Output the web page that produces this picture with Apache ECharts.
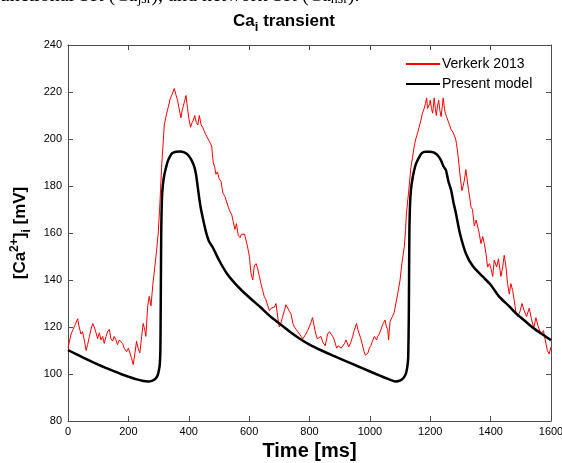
<!DOCTYPE html>
<html>
<head>
<meta charset="utf-8">
<script src="https://cdn.jsdelivr.net/npm/echarts@6/dist/echarts.min.js"></script>
<style>
html,body{margin:0;padding:0;background:#fff;}
#chart{width:562px;height:463px;}
</style>
</head>
<body>
<div id="chart"></div>
<script>
// ---- Data ----
const xTicks = [0, 200, 400, 600, 800, 1000, 1200, 1400, 1600];
const yTicks = [80, 100, 120, 140, 160, 180, 200, 220, 240];

const verkerkTime = [0,10,17,24,32,37,43,48,54,60,65,71,76,82,87,93,98,104,109,115,120,126,131,137,142,148,153,159,164,170,175,181,186,194,200,205,210,216,222,227,232,238,244,249,254,258,264,269,275,281,288,293,299,305,310,314,319,327,333,338,345,352,357,363,368,374,378,382,386,391,396,400,406,411,415,420,425,430,435,441,446,449,454,460,466,471,476,481,486,490,495,501,507,513,520,525,531,537,542,547,553,558,564,570,575,580,585,590,595,601,606,612,617,623,628,634,640,645,650,656,662,667,673,678,684,689,695,700,706,711,717,722,728,734,739,745,750,756,761,767,772,778,783,788,794,799,805,810,816,821,826,830,838,844,852,860,866,871,877,882,890,895,899,905,910,916,921,930,937,943,948,956,960,965,970,974,981,985,989,994,998,1003,1007,1015,1022,1026,1031,1037,1042,1046,1050,1055,1059,1062,1067,1075,1080,1084,1092,1100,1106,1114,1118,1121,1128,1136,1141,1147,1152,1158,1163,1169,1174,1180,1184,1188,1191,1195,1198,1200,1204,1208,1213,1217,1220,1224,1228,1232,1236,1240,1243,1247,1250,1254,1258,1264,1269,1275,1280,1284,1287,1292,1296,1300,1305,1309,1313,1318,1322,1327,1331,1335,1340,1346,1352,1357,1362,1368,1374,1379,1385,1390,1396,1401,1407,1412,1420,1426,1434,1440,1445,1451,1456,1462,1467,1473,1478,1484,1490,1497,1504,1511,1519,1528,1536,1543,1550,1558,1567,1575,1581,1588,1594,1600];
const verkerkCa = [111,117,119,121,123.5,120,117,118,114.5,110,112.5,116,119,121.5,120,117.5,115,117.5,114.5,116,113,116,118,119,115,114,116,114.5,112.5,114.5,115,113,111,109.5,111,110.5,107,104,109,114,111,109,116,121.5,119,116,129,133,129,138,146,152,160,174,188,196,206,211,214,217,219,221.5,219,216.5,213,209,212,214,216,218.5,213,209,205,207,208,210,207,206,210,206,205,204.5,202.5,201,199.5,199,197,190,188,185,186,183,182,177,175.5,175,171,169,168,165,161.5,164,159,158,159.5,160,159.5,159,154,150,143,140,146,147,145,141.5,138,135.5,133,131.5,129,127,128,127.5,128.5,130,124,120,122,124.5,127,129.5,129,126.5,125.5,121.5,120,119,118,117,116,115,114.5,117,118.5,120,122,124,120,117,115,114.5,116,113.5,112,117,118,118,116,114.5,111,112,112,111,111.5,113,114.5,111.5,113.5,116,118.5,121.5,119,117,115,113,109.5,108,107.5,109,111,112,113.5,116,114.5,116,117,119,121,122,123,120,119,114.5,122.5,124.5,126,128.5,134,140,147,154,161,168,177,188,192,197,200,202.5,205,208,211,213,215,217.5,213,212.5,215,216.5,213,211,217.5,213,210,214,216.5,212,209.5,214,217.5,213,211,209.5,208,206,204,203,202.5,200,198,193,188,183,178,180,182.5,187,183,178,175,171,170,163,165.5,166,160,155.5,158.5,155.5,151,145.5,147,145,141.5,148.5,145.5,149,141.5,145.5,150.5,145.5,138.5,134,138.5,135.5,131.5,126,124.5,126.5,130,127,124.5,128,123,119.5,124,120,117,118.5,114.5,110,108.5,111.5];

const modelTime = [0,25,50,75,100,125,150,175,200,225,250,265,280,290,297,301,304,306,307,308,309,311,314,319,325,330,338,346,358,372,385,395,402,410,418,424,429,434,440,448,457,467,481,500,525,550,580,610,636,670,700,735,768,800,840,878,920,960,989,1020,1050,1070,1083,1095,1107,1115,1120,1124,1127,1129,1130,1131,1133,1136,1141,1147,1153,1162,1172,1184,1198,1211,1221,1228,1236,1244,1252,1260,1269,1277,1285,1298,1318,1342,1374,1400,1429,1460,1484,1510,1539,1570,1600];
const modelCa = [110.2,108.6,107,105.5,104,102.6,101.3,100,98.9,97.8,97,96.8,97.2,98,99.5,101.5,104,110,125,145,162,174,180,184.7,188,190.4,192.6,194,194.6,194.7,194.3,193.5,192.5,190.8,188.3,185,180.4,175.5,170.5,165.5,160.5,156.5,153.5,148.5,143,139,135,131.5,128.6,124.5,121.5,118,115,112.5,110,107.8,105.5,103.3,101.7,100,98.4,97.4,96.8,97,97.8,99,100.5,103,107,125,145,162,172,178.3,183,186.8,189.5,192,194,194.6,194.6,194.3,193.5,192.5,190.8,188.3,186.8,182,178.3,173,168.4,160,151.3,145.7,141.4,138,132.8,129,125.8,123,119.8,117,114.4];

const seriesNames = ['Verkerk 2013', 'Present model'];

const verkerkData = verkerkTime.map((t, i) => [t, verkerkCa[i]]);
const modelData = modelTime.map((t, i) => [t, modelCa[i]]);

const chart = echarts.init(document.getElementById('chart'), null, {renderer: 'canvas'});
const FONT = 'Liberation Sans, Arial, Helvetica, sans-serif';
const axisColor = '#4d4d4d';

const baseX = {
  type: 'value', min: xTicks[0], max: xTicks[xTicks.length - 1], interval: xTicks[1] - xTicks[0],
  axisLine: {show: true, onZero: false, lineStyle: {color: axisColor, width: 1}},
  axisTick: {show: true, inside: true, length: 5, lineStyle: {color: axisColor}},
  splitLine: {show: false}
};
const baseY = {
  type: 'value', min: yTicks[0], max: yTicks[yTicks.length - 1], interval: yTicks[1] - yTicks[0],
  axisLine: {show: true, onZero: false, lineStyle: {color: axisColor, width: 1}},
  axisTick: {show: true, inside: true, length: 5, lineStyle: {color: axisColor}},
  splitLine: {show: false}
};

chart.setOption({
  animation: false,
  backgroundColor: '#fff',
  title: {
    text: 'Ca{sub|i} transient',
    left: 284, top: 8, textAlign: 'center', padding: 0,
    textStyle: {
      fontFamily: FONT, fontSize: 17, fontWeight: 'bold', color: '#000', lineHeight: 26,
      rich: {sub: {fontFamily: FONT, fontSize: 13, fontWeight: 'bold', color: '#000', verticalAlign: 'bottom', lineHeight: 9}}
    }
  },
  graphic: [{
    type: 'text', left: -7, top: -14, silent: true,
    style: {
      text: 'functional SR (Ca{s|jsr}), and network SR (Ca{s|nsr}).',
      font: '20px "Liberation Serif", "Times New Roman", serif',
      fill: '#000',
      rich: {s: {fontFamily: 'Liberation Serif', fontSize: 14, fill: '#000', verticalAlign: 'bottom', lineHeight: 10}}
    }
  }],
  legend: {
    orient: 'vertical', left: 405, top: 57, padding: 0,
    itemWidth: 34, itemHeight: 14, itemGap: 6,
    itemStyle: {opacity: 0},
    textStyle: {fontFamily: FONT, fontSize: 14, color: '#000', padding: [0, 0, 0, -3]},
    data: seriesNames
  },
  grid: {left: 68, right: 11, top: 45, bottom: 42, containLabel: false, outerBoundsMode: 'none'},
  xAxis: [
    Object.assign({}, baseX, {
      position: 'bottom',
      name: 'Time [ms]', nameLocation: 'middle', nameGap: 20,
      nameTextStyle: {fontFamily: FONT, fontSize: 20, fontWeight: 'bold', color: '#000'},
      axisLabel: {show: true, fontFamily: FONT, fontSize: 11, color: '#000', margin: 5, formatter: v => String(v)}
    }),
    Object.assign({}, baseX, {position: 'top', axisLabel: {show: false}})
  ],
  yAxis: [
    Object.assign({}, baseY, {
      position: 'left',
      name: '[Ca{sup|2+}]{sub|i} [mV]', nameLocation: 'middle', nameGap: 33,
      nameTextStyle: {
        fontFamily: FONT, fontSize: 17, fontWeight: 'bold', color: '#000', lineHeight: 24,
        rich: {
          sup: {fontFamily: FONT, fontSize: 12, fontWeight: 'bold', color: '#000', verticalAlign: 'top', lineHeight: 12},
          sub: {fontFamily: FONT, fontSize: 12, fontWeight: 'bold', color: '#000', verticalAlign: 'bottom', lineHeight: 14}
        }
      },
      axisLabel: {show: true, fontFamily: FONT, fontSize: 11, color: '#000', margin: 6, formatter: v => String(v)}
    }),
    Object.assign({}, baseY, {position: 'right', axisLabel: {show: false}})
  ],
  series: [
    {
      name: seriesNames[0], type: 'line', data: verkerkData,
      xAxisIndex: 0, yAxisIndex: 0,
      symbol: 'none', showSymbol: false,
      lineStyle: {color: '#ff0000', width: 1},
      itemStyle: {color: '#ff0000'}, z: 2
    },
    {
      name: seriesNames[1], type: 'line', data: modelData,
      xAxisIndex: 0, yAxisIndex: 0,
      symbol: 'none', showSymbol: false, smooth: 0.2,
      lineStyle: {color: '#000', width: 2.5},
      itemStyle: {color: '#000'}, z: 3
    }
  ]
});
</script>
</body>
</html>
